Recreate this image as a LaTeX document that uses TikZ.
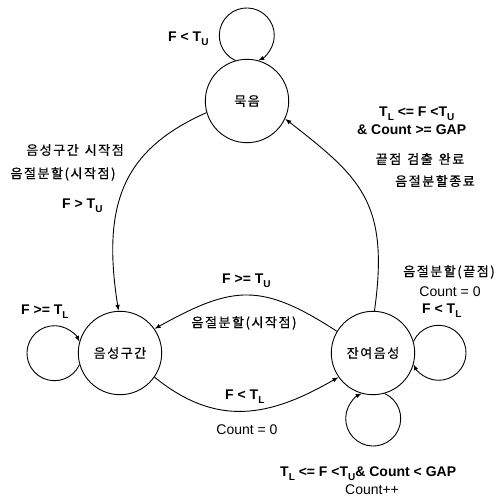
\documentclass[tikz,border=0pt]{standalone}
\usepackage{fontspec}
\setmainfont{Liberation Sans}
\newfontfamily\kr[LetterSpace=12, FakeBold=0.6]{Noto Sans CJK KR}
\usetikzlibrary{arrows.meta}
\newcommand\lowsub[1]{\raisebox{-3.5pt}{\fontsize{10}{10}\selectfont #1}}
\newcommand\wsp{\hspace{6pt}}
\begin{document}
\begin{tikzpicture}[x=1pt,y=1pt,
  state/.style={draw, circle, minimum size=83.4pt, inner sep=0pt, line width=0.9pt,
    font=\kr\fontsize{13}{15}\selectfont},
  lab/.style={font=\bfseries\fontsize{14}{16}\selectfont, inner sep=0pt},
  klab/.style={font=\kr\fontsize{13}{15}\selectfont, inner sep=0pt},
  rlab/.style={font=\fontsize{14}{16}\selectfont, inner sep=0pt},
  arr/.style={line width=0.9pt, -{Latex[length=6pt,width=4.5pt]}}]
\useasboundingbox (0,0) rectangle (498,501);

% states
\node[state] (M) at (247,400) {묵음};
\node[state] (S) at (120,148) {음성구간};
\node[state] (R) at (373,148) {잔여음성};

% self loops
\draw[arr] (M.106) arc[start angle=245.5, end angle=-65.5, radius=27.5];
\draw[arr] (S.196) arc[start angle=335.5, end angle=24.5, radius=27.5];
\draw[arr] (R.16) arc[start angle=155.5, end angle=-155.5, radius=27.5];
\draw[arr] (R.286) arc[start angle=65.5, end angle=-245.5, radius=27.5];

% transitions
\draw[arr] (M.196) .. controls +(204:90) and +(99:110) .. (S.92);
\draw[arr] (R.88) .. controls +(82:110) and +(-38:95) .. (M.-25);
\draw[arr] (R.149) .. controls +(147:90) and +(29:90) .. (S.35);
\draw[arr] (S.-35) .. controls +(-39:80) and +(210:80) .. (R.215);

% labels
\node[lab, anchor=base west] (tl) at (168,459) {F < T\lowsub{U}};
\node[klab] (a1) at (75,351) {음성구간\wsp 시작점};
\node[klab] (a2) at (63,327) {음절분할(시작점)};
\node[lab, anchor=base west] (a3) at (62,292) {F > T\lowsub{U}};
\node[lab, anchor=base west] (ll) at (21,186) {F >= T\lowsub{L}};
\node[lab, anchor=base west] (b1) at (222,217) {F >= T\lowsub{U}};
\node[klab] (b2) at (244,178) {음절분할(시작점)};
\node[lab, anchor=base west] (c1) at (225,101) {F < T\lowsub{L}};
\node[rlab] (c2) at (247,71) {Count = 0};
\node[lab, anchor=base west] (d1) at (379,384) {T\lowsub{L} <= F <T\lowsub{U}};
\node[lab, anchor=base west] (d2) at (357,366) {\& Count >= GAP};
\node[klab] (d3) at (420,342) {끝점\wsp 검출\wsp 완료};
\node[klab] (d4) at (435,320) {음절분할종료};
\node[klab] (e1) at (449,229) {음절분할(끝점)};
\node[rlab] (e2) at (450,209) {Count = 0};
\node[lab, anchor=base west] (e3) at (422,187) {F < T\lowsub{L}};
\node[lab, anchor=base west] (f1) at (280,24) {T\lowsub{L} <= F <T\lowsub{U}\& Count < GAP};
\node[rlab] (f2) at (372,11) {Count++};
\end{tikzpicture}
\end{document}
